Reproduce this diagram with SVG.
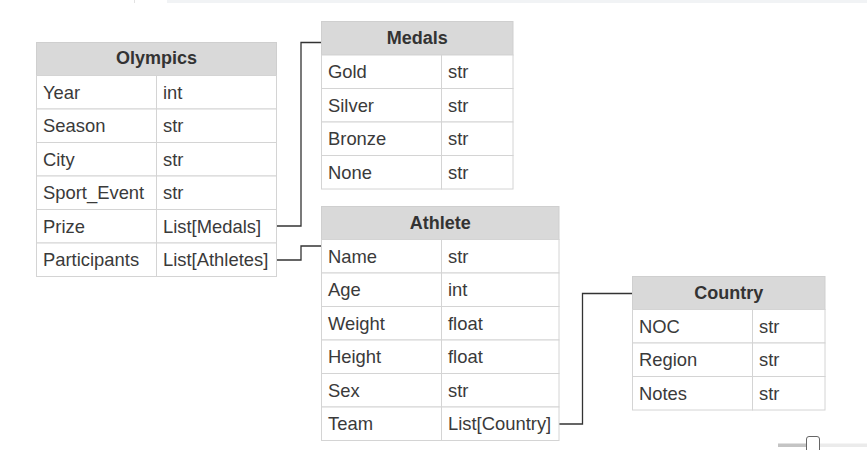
<svg xmlns="http://www.w3.org/2000/svg" width="867" height="450" viewBox="0 0 867 450">
<style>
  .hdr { fill: #d9d9d9; stroke: #cfcfcf; stroke-width: 1; }
  .cell { fill: #ffffff; stroke: #d4d4d4; stroke-width: 1; }
  .ht { font-family: "Liberation Sans", Arial, sans-serif; font-size: 18px; font-weight: bold; fill: #333333; text-anchor: middle; }
  .t { font-family: "Liberation Sans", Arial, sans-serif; font-size: 18.4px; fill: #3a3a3a; }
  .conn { fill: none; stroke: #333333; stroke-width: 1.3; }
</style>
<rect x="0" y="0" width="867" height="450" fill="#ffffff"/>
<line x1="134.5" y1="0" x2="134.5" y2="3" stroke="#e2e2e2" stroke-width="1"/>
<rect x="167" y="0" width="700" height="3" fill="#f1f3f5"/>

<g id="connectors">
  <polyline class="conn" points="277,226 301,226 301,42.5 321.5,42.5"/>
  <polyline class="conn" points="277,260 301,260 301,246 321,246"/>
  <polyline class="conn" points="559,424 582.5,424 582.5,293.5 632,293.5"/>
</g>

<g id="olympics">
  <rect class="hdr" x="36.5" y="42.5" width="240" height="33"/>
  <text class="ht" x="156.5" y="64">Olympics</text>
  <rect class="cell" x="36.5" y="75.5" width="120" height="33.5"/><rect class="cell" x="156.5" y="75.5" width="120" height="33.5"/>
  <rect class="cell" x="36.5" y="109" width="120" height="33.5"/><rect class="cell" x="156.5" y="109" width="120" height="33.5"/>
  <rect class="cell" x="36.5" y="142.5" width="120" height="33.5"/><rect class="cell" x="156.5" y="142.5" width="120" height="33.5"/>
  <rect class="cell" x="36.5" y="176" width="120" height="33.5"/><rect class="cell" x="156.5" y="176" width="120" height="33.5"/>
  <rect class="cell" x="36.5" y="209.5" width="120" height="33.5"/><rect class="cell" x="156.5" y="209.5" width="120" height="33.5"/>
  <rect class="cell" x="36.5" y="243" width="120" height="33.5"/><rect class="cell" x="156.5" y="243" width="120" height="33.5"/>
  <text class="t" x="43" y="98.5">Year</text><text class="t" x="163" y="98.5">int</text>
  <text class="t" x="43" y="132">Season</text><text class="t" x="163" y="132">str</text>
  <text class="t" x="43" y="165.5">City</text><text class="t" x="163" y="165.5">str</text>
  <text class="t" x="43" y="199">Sport_Event</text><text class="t" x="163" y="199">str</text>
  <text class="t" x="43" y="232.5">Prize</text><text class="t" x="163" y="232.5">List[Medals]</text>
  <text class="t" x="43" y="266">Participants</text><text class="t" x="163" y="266">List[Athletes]</text>
</g>

<g id="medals">
  <rect class="hdr" x="321.5" y="21.5" width="191.5" height="33.5"/>
  <text class="ht" x="417.25" y="43.5">Medals</text>
  <rect class="cell" x="321.5" y="55" width="120" height="33.5"/><rect class="cell" x="441.5" y="55" width="71.5" height="33.5"/>
  <rect class="cell" x="321.5" y="88.5" width="120" height="33.5"/><rect class="cell" x="441.5" y="88.5" width="71.5" height="33.5"/>
  <rect class="cell" x="321.5" y="122" width="120" height="33.5"/><rect class="cell" x="441.5" y="122" width="71.5" height="33.5"/>
  <rect class="cell" x="321.5" y="155.5" width="120" height="33.5"/><rect class="cell" x="441.5" y="155.5" width="71.5" height="33.5"/>
  <text class="t" x="328" y="78">Gold</text><text class="t" x="448" y="78">str</text>
  <text class="t" x="328" y="111.5">Silver</text><text class="t" x="448" y="111.5">str</text>
  <text class="t" x="328" y="145">Bronze</text><text class="t" x="448" y="145">str</text>
  <text class="t" x="328" y="178.5">None</text><text class="t" x="448" y="178.5">str</text>
</g>

<g id="athlete">
  <rect class="hdr" x="321.5" y="206.5" width="237.5" height="33"/>
  <text class="ht" x="440.25" y="228.5">Athlete</text>
  <rect class="cell" x="321.5" y="239.5" width="120" height="33.5"/><rect class="cell" x="441.5" y="239.5" width="117.5" height="33.5"/>
  <rect class="cell" x="321.5" y="273" width="120" height="33.5"/><rect class="cell" x="441.5" y="273" width="117.5" height="33.5"/>
  <rect class="cell" x="321.5" y="306.5" width="120" height="33.5"/><rect class="cell" x="441.5" y="306.5" width="117.5" height="33.5"/>
  <rect class="cell" x="321.5" y="340" width="120" height="33.5"/><rect class="cell" x="441.5" y="340" width="117.5" height="33.5"/>
  <rect class="cell" x="321.5" y="373.5" width="120" height="33.5"/><rect class="cell" x="441.5" y="373.5" width="117.5" height="33.5"/>
  <rect class="cell" x="321.5" y="407" width="120" height="33.5"/><rect class="cell" x="441.5" y="407" width="117.5" height="33.5"/>
  <text class="t" x="328" y="262.5">Name</text><text class="t" x="448" y="262.5">str</text>
  <text class="t" x="328" y="296">Age</text><text class="t" x="448" y="296">int</text>
  <text class="t" x="328" y="329.5">Weight</text><text class="t" x="448" y="329.5">float</text>
  <text class="t" x="328" y="363">Height</text><text class="t" x="448" y="363">float</text>
  <text class="t" x="328" y="396.5">Sex</text><text class="t" x="448" y="396.5">str</text>
  <text class="t" x="328" y="430">Team</text><text class="t" x="448" y="430">List[Country]</text>
</g>

<g id="country">
  <rect class="hdr" x="632.5" y="276.5" width="192.5" height="33"/>
  <text class="ht" x="728.75" y="298.5">Country</text>
  <rect class="cell" x="632.5" y="309.5" width="120" height="33.5"/><rect class="cell" x="752.5" y="309.5" width="72.5" height="33.5"/>
  <rect class="cell" x="632.5" y="343" width="120" height="33.5"/><rect class="cell" x="752.5" y="343" width="72.5" height="33.5"/>
  <rect class="cell" x="632.5" y="376.5" width="120" height="33.5"/><rect class="cell" x="752.5" y="376.5" width="72.5" height="33.5"/>
  <text class="t" x="639" y="332.5">NOC</text><text class="t" x="759" y="332.5">str</text>
  <text class="t" x="639" y="366">Region</text><text class="t" x="759" y="366">str</text>
  <text class="t" x="639" y="399.5">Notes</text><text class="t" x="759" y="399.5">str</text>
</g>

<rect x="778" y="443.5" width="30" height="3.5" fill="#c4c4c4"/>
<rect x="808" y="443.5" width="59" height="3.5" fill="#ebebeb"/>
<rect x="806.5" y="436.5" width="13" height="16" rx="2.5" fill="#ffffff" stroke="#666666" stroke-width="1"/>
</svg>
